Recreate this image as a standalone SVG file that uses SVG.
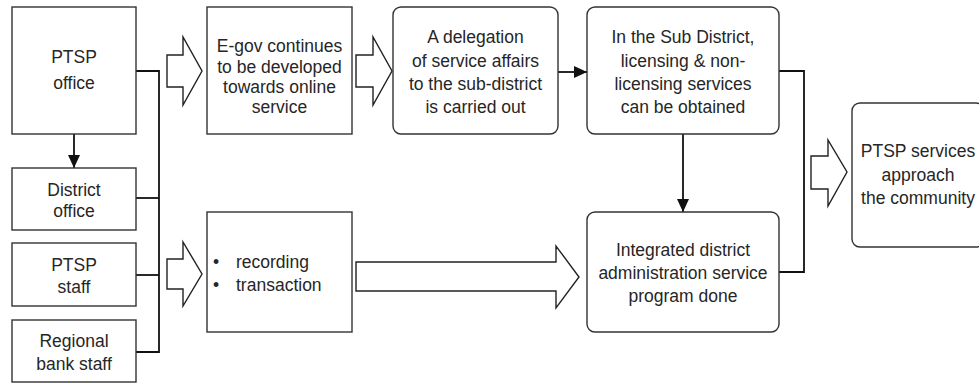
<svg xmlns="http://www.w3.org/2000/svg" width="979" height="383" viewBox="0 0 979 383">
<defs>
<style>
.box{fill:#fff;stroke:#333;stroke-width:1.4}
.t{font-family:"Liberation Sans",Arial,sans-serif;font-size:17.5px;fill:#262626;text-anchor:middle}
.tl{font-family:"Liberation Sans",Arial,sans-serif;font-size:17.5px;fill:#262626}
.ln{fill:none;stroke:#111;stroke-width:1.8}
.blk{fill:#fff;stroke:#222;stroke-width:1.4;stroke-linejoin:miter}
</style>
<marker id="ah" markerUnits="userSpaceOnUse" markerWidth="13" markerHeight="12" refX="13" refY="6" orient="auto">
<path d="M0,0 L13,6 L0,12 z" fill="#111"/>
</marker>
</defs>
<rect width="979" height="383" fill="#fff"/>

<g id="connectors">
<line class="ln" x1="74" y1="134" x2="74" y2="168" marker-end="url(#ah)"/>
<polyline class="ln" points="136,71 159,71 159,352 136,352"/>
<line class="ln" x1="136" y1="198" x2="159" y2="198"/>
<line class="ln" x1="136" y1="275" x2="159" y2="275"/>
<line class="ln" x1="558" y1="72" x2="587" y2="72" marker-end="url(#ah)"/>
<line class="ln" x1="683" y1="134" x2="683" y2="212" marker-end="url(#ah)"/>
<polyline class="ln" points="779,71 804,71 804,272 779,272"/>
<polygon class="blk" points="167,55 183,55 183,37 202,71 183,105 183,87 167,87"/>
<polygon class="blk" points="356,55 373,55 373,37 392,71 373,105 373,87 356,87"/>
<polygon class="blk" points="167,259 183,259 183,242 202,274 183,306 183,289 167,289"/>
<polygon class="blk" points="356,262 556,262 556,246 579,277 556,308 556,291 356,291"/>
<polygon class="blk" points="811,156 828,156 828,140 847,172 828,206 828,189 811,189"/>
</g>

<g id="n_ptsp_office">
<rect class="box" x="12" y="7" width="124" height="127"/>
<text class="t" x="74" y="63">PTSP</text>
<text class="t" x="74" y="89">office</text>
</g>
<g id="n_district_office">
<rect class="box" x="12" y="168" width="124" height="62"/>
<text class="t" x="74" y="196">District</text>
<text class="t" x="74" y="217">office</text>
</g>
<g id="n_ptsp_staff">
<rect class="box" x="12" y="243" width="124" height="63"/>
<text class="t" x="74" y="271">PTSP</text>
<text class="t" x="74" y="293">staff</text>
</g>
<g id="n_bank_staff">
<rect class="box" x="12" y="320" width="124" height="62"/>
<text class="t" x="74" y="347">Regional</text>
<text class="t" x="74" y="370">bank staff</text>
</g>
<g id="n_egov">
<rect class="box" x="207" y="7" width="145" height="127"/>
<text class="t" x="279.5" y="52">E-gov continues</text>
<text class="t" x="279.5" y="72.5">to be developed</text>
<text class="t" x="279.5" y="92.5">towards online</text>
<text class="t" x="279.5" y="112.5">service</text>
</g>
<g id="n_recording">
<rect class="box" x="207" y="212" width="145" height="120"/>
<text class="tl" y="268"><tspan x="213">•</tspan><tspan x="236">recording</tspan></text>
<text class="tl" y="290.5"><tspan x="213">•</tspan><tspan x="236">transaction</tspan></text>
</g>
<g id="n_delegation">
<rect class="box" x="393" y="7" width="165" height="127" rx="8"/>
<text class="t" x="475.5" y="43">A delegation</text>
<text class="t" x="475.5" y="66.5">of service affairs</text>
<text class="t" x="475.5" y="90">to the sub-district</text>
<text class="t" x="475.5" y="113">is carried out</text>
</g>
<g id="n_subdistrict">
<rect class="box" x="587" y="7" width="192" height="127" rx="8"/>
<text class="t" x="683" y="43">In the Sub District,</text>
<text class="t" x="683" y="66.5">licensing &amp; non-</text>
<text class="t" x="683" y="90">licensing services</text>
<text class="t" x="683" y="113">can be obtained</text>
</g>
<g id="n_integrated">
<rect class="box" x="587" y="212" width="192" height="120" rx="8"/>
<text class="t" x="683" y="256">Integrated district</text>
<text class="t" x="683" y="279">administration service</text>
<text class="t" x="683" y="302">program done</text>
</g>
<g id="n_services">
<rect class="box" x="852" y="103" width="132" height="144" rx="8"/>
<text class="t" x="918" y="157">PTSP services</text>
<text class="t" x="918" y="180.5">approach</text>
<text class="t" x="918" y="204">the community</text>
</g>
</svg>
